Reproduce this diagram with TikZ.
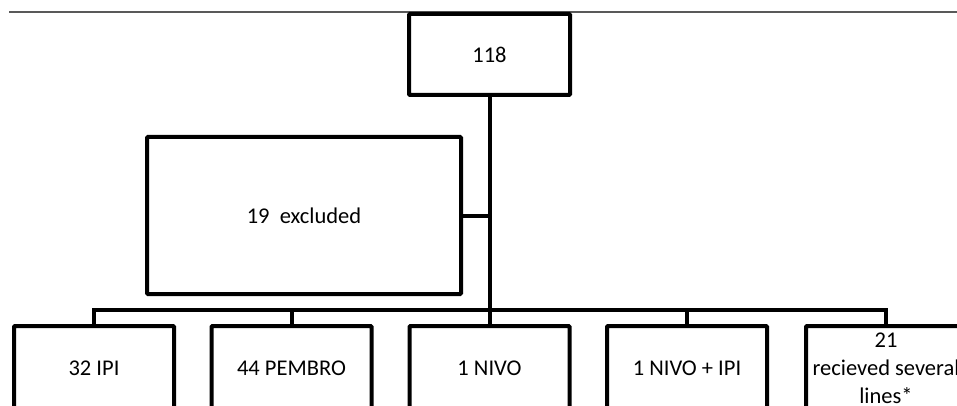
\documentclass[tikz,border=0pt]{standalone}
\usepackage{fontspec}
\setmainfont{Carlito}
\begin{document}
\begin{tikzpicture}[x=1pt,y=-1pt,
  box/.style={draw=black,line width=4pt,fill=white,rounded corners=1pt,inner sep=0pt,align=center,font=\fontsize{22.5}{28}\selectfont},
  topbox/.style={box,minimum width=161pt,minimum height=81pt},
  exbox/.style={box,minimum width=314pt,minimum height=157pt},
  botbox/.style={box,minimum width=160pt,minimum height=84pt},
  conn/.style={draw=black,line width=4pt},
  topline/.style={draw=black!65,line width=1.6pt}]
\useasboundingbox (0,0) rectangle (957,406);
\clip (0,0) rectangle (957,406);
\coordinate (tl) at (9,12);
\coordinate (tr) at (957,12);
\draw[topline] (tl) -- (tr);
\coordinate (bar) at (94,309.5);
\node[topbox] (top) at (489.5,54.5) {118};
\node[exbox] (ex) at (304,215.5) {19\ \ excluded};
\node[botbox] (b1) at (94,368) {32 IPI};
\node[botbox] (b2) at (291.5,368) {44 PEMBRO};
\node[botbox] (b3) at (489.5,368) {1 NIVO};
\node[botbox] (b4) at (687,368) {1 NIVO + IPI};
\node[botbox] (b5) at (886,368) {21\\recieved several\\lines*};
\draw[conn] (top.south) -- (b3.north);
\draw[conn] (ex.east) -- (ex.east -| top.south);
\draw[conn] (b1.north) -- (b1.north |- bar) -- (b5.north |- bar) -- (b5.north);
\draw[conn] (b2.north) -- (b2.north |- bar);
\draw[conn] (b4.north) -- (b4.north |- bar);
\end{tikzpicture}
\end{document}
